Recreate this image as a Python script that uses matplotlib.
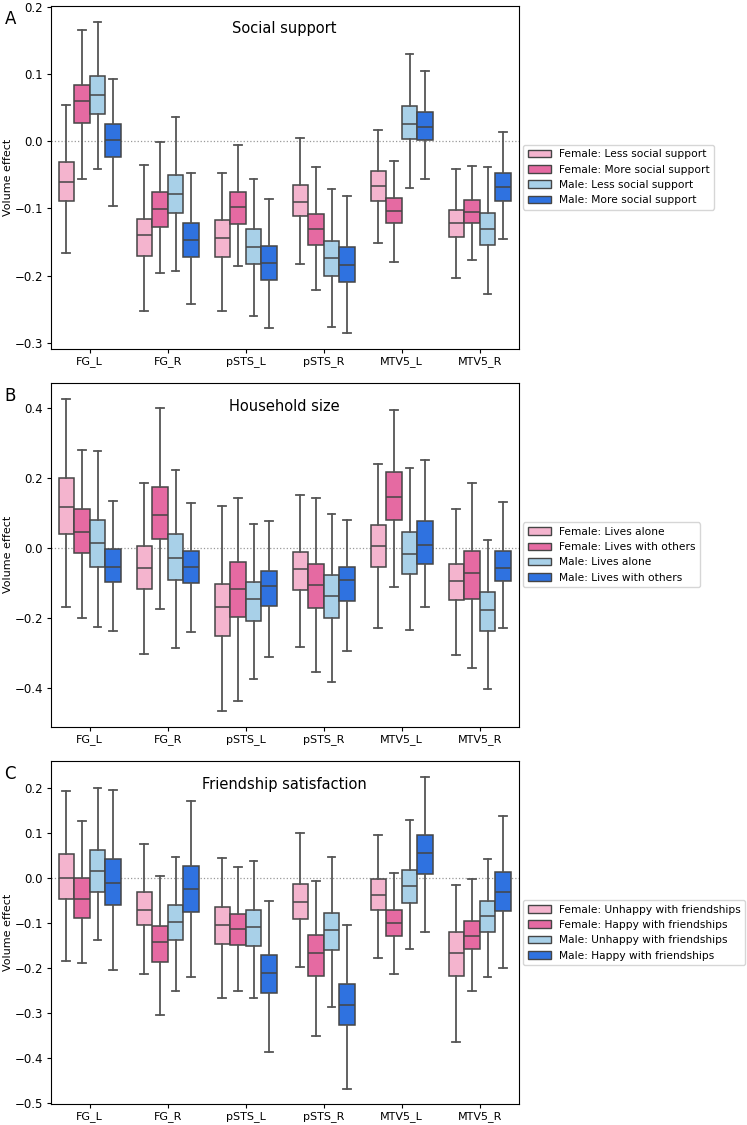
import numpy as np
import matplotlib
matplotlib.use('Agg')
import matplotlib.pyplot as plt
import matplotlib.patches as mpatches

# ── Dados ────────────────────────────────────────────────────────────────────
regions = ['FG_L', 'FG_R', 'pSTS_L', 'pSTS_R', 'MTV5_L', 'MTV5_R']
colors = ['#f4b4ce', '#e56aa2', '#a8d0e8', '#2f72e0']

# cada linha: [whislo, q1, med, q3, whishi] por região, por grupo
# ── A: Social support
labels_A = ['Female: Less social support', 'Female: More social support',
            'Male: Less social support', 'Male: More social support']
f_less_A = [[-0.167, -0.089, -0.061, -0.031, 0.054],
            [-0.253, -0.171, -0.139, -0.116, -0.035],
            [-0.253, -0.172, -0.144, -0.117, -0.047],
            [-0.182, -0.112, -0.090, -0.065, 0.005],
            [-0.152, -0.089, -0.067, -0.045, 0.017],
            [-0.203, -0.143, -0.122, -0.103, -0.041]]
f_more_A = [[-0.057, 0.027, 0.060, 0.083, 0.165],
            [-0.196, -0.127, -0.101, -0.076, -0.001],
            [-0.186, -0.123, -0.098, -0.076, -0.005],
            [-0.222, -0.155, -0.131, -0.109, -0.039],
            [-0.180, -0.122, -0.104, -0.084, -0.029],
            [-0.176, -0.122, -0.105, -0.087, -0.037]]
m_less_A = [[-0.041, 0.040, 0.068, 0.097, 0.177],
            [-0.193, -0.107, -0.079, -0.050, 0.036],
            [-0.260, -0.183, -0.158, -0.131, -0.056],
            [-0.276, -0.200, -0.174, -0.148, -0.071],
            [-0.070, 0.003, 0.026, 0.053, 0.129],
            [-0.227, -0.155, -0.130, -0.107, -0.038]]
m_more_A = [[-0.096, -0.024, 0.002, 0.025, 0.093],
            [-0.242, -0.172, -0.147, -0.122, -0.047],
            [-0.278, -0.206, -0.181, -0.156, -0.086],
            [-0.285, -0.210, -0.184, -0.157, -0.082],
            [-0.057, 0.002, 0.021, 0.043, 0.104],
            [-0.146, -0.089, -0.068, -0.048, 0.013]]

# ── B: Household size
labels_B = ['Female: Lives alone', 'Female: Lives with others',
            'Male: Lives alone', 'Male: Lives with others']
f_alone_B = [[-0.168, 0.041, 0.118, 0.200, 0.425],
             [-0.301, -0.117, -0.058, 0.006, 0.186],
             [-0.464, -0.251, -0.169, -0.103, 0.121],
             [-0.283, -0.120, -0.060, -0.010, 0.150],
             [-0.227, -0.054, 0.007, 0.065, 0.240],
             [-0.305, -0.149, -0.093, -0.045, 0.112]]
f_others_B = [[-0.198, -0.015, 0.047, 0.111, 0.280],
              [-0.174, 0.025, 0.093, 0.175, 0.400],
              [-0.437, -0.197, -0.118, -0.040, 0.142],
              [-0.352, -0.170, -0.104, -0.046, 0.143],
              [-0.111, 0.080, 0.146, 0.216, 0.394],
              [-0.341, -0.145, -0.071, -0.009, 0.185]]
m_alone_B = [[-0.224, -0.053, 0.014, 0.079, 0.277],
             [-0.286, -0.090, -0.028, 0.040, 0.221],
             [-0.373, -0.207, -0.146, -0.096, 0.068],
             [-0.381, -0.200, -0.136, -0.077, 0.098],
             [-0.233, -0.074, -0.018, 0.047, 0.228],
             [-0.402, -0.236, -0.175, -0.125, 0.023]]
m_others_B = [[-0.235, -0.096, -0.055, -0.004, 0.134],
              [-0.238, -0.100, -0.055, -0.007, 0.129],
              [-0.309, -0.165, -0.108, -0.066, 0.078],
              [-0.293, -0.151, -0.091, -0.055, 0.079],
              [-0.169, -0.044, 0.009, 0.078, 0.252],
              [-0.228, -0.095, -0.056, -0.007, 0.130]]

# ── C: Friendship satisfaction
labels_C = ['Female: Unhappy with friendships', 'Female: Happy with friendships',
            'Male: Unhappy with friendships', 'Male: Happy with friendships']
f_unhappy_C = [[-0.184, -0.047, 0.000, 0.053, 0.195],
               [-0.214, -0.105, -0.070, -0.032, 0.077],
               [-0.268, -0.147, -0.104, -0.065, 0.045],
               [-0.198, -0.091, -0.053, -0.014, 0.101],
               [-0.178, -0.072, -0.038, -0.003, 0.095],
               [-0.366, -0.218, -0.166, -0.121, -0.016]]
f_happy_C = [[-0.190, -0.088, -0.046, 0.000, 0.128],
             [-0.305, -0.186, -0.143, -0.106, 0.004],
             [-0.252, -0.149, -0.114, -0.080, 0.025],
             [-0.351, -0.218, -0.166, -0.126, -0.007],
             [-0.213, -0.130, -0.100, -0.071, 0.012],
             [-0.251, -0.159, -0.128, -0.096, -0.002]]
m_unhappy_C = [[-0.138, -0.032, 0.015, 0.062, 0.200],
               [-0.251, -0.137, -0.098, -0.061, 0.046],
               [-0.267, -0.152, -0.109, -0.072, 0.039],
               [-0.288, -0.161, -0.116, -0.077, 0.047],
               [-0.158, -0.056, -0.018, 0.019, 0.129],
               [-0.220, -0.119, -0.085, -0.050, 0.043]]
m_happy_C = [[-0.205, -0.060, -0.010, 0.042, 0.196],
             [-0.220, -0.075, -0.024, 0.028, 0.172],
             [-0.387, -0.257, -0.212, -0.171, -0.050],
             [-0.470, -0.328, -0.283, -0.236, -0.104],
             [-0.120, 0.010, 0.056, 0.097, 0.226],
             [-0.201, -0.073, -0.030, 0.013, 0.138]]

panels = [
    ('A', 'Social support', labels_A, [f_less_A, f_more_A, m_less_A, m_more_A], (-0.309, 0.2015)),
    ('B', 'Household size', labels_B, [f_alone_B, f_others_B, m_alone_B, m_others_B], (-0.509, 0.471)),
    ('C', 'Friendship satisfaction', labels_C, [f_unhappy_C, f_happy_C, m_unhappy_C, m_happy_C], (-0.504, 0.261)),
]

# ── Figura ────────────────────────────────────────────────────────────────────
fig = plt.figure(figsize=(7.47, 11.25), dpi=100)
axes_pos = [
    [0.0679, 0.6898, 0.6265, 0.3052],
    [0.0679, 0.3540, 0.6265, 0.3058],
    [0.0679, 0.0184, 0.6265, 0.3052],
]

offsets = [-0.3, -0.1, 0.1, 0.3]
edge = '#454545'
for (letter, title, labels, groups, ylim), pos in zip(panels, axes_pos):
    ax = fig.add_axes(pos)
    ax.axhline(0, color='#999999', ls=':', lw=0.9, zorder=0)
    for g, (grp, col) in enumerate(zip(groups, colors)):
        stats = []
        for vals in grp:
            lo, q1, med, q3, hi = vals
            stats.append(dict(whislo=lo, q1=q1, med=med, q3=q3, whishi=hi, fliers=[]))
        ax.bxp(stats, positions=np.arange(len(regions)) + offsets[g], widths=0.2,
               showfliers=False, patch_artist=True, manage_ticks=False,
               boxprops=dict(facecolor=col, edgecolor=edge, linewidth=1.1),
               medianprops=dict(color=edge, linewidth=1.1),
               whiskerprops=dict(color='#555555', linewidth=1.3),
               capprops=dict(color='#555555', linewidth=1.3))
    ax.set_xlim(-0.5, len(regions) - 0.5)
    ax.set_ylim(*ylim)
    ax.set_xticks(np.arange(len(regions)))
    ax.set_xticklabels(regions, fontsize=8)
    ax.tick_params(axis='x', length=3, pad=2)
    ax.tick_params(axis='y', labelsize=8.5, length=3, pad=2.5)
    ax.set_ylabel('Volume effect', fontsize=8)
    ax.yaxis.set_label_coords(-0.08, 0.5)
    ax.text(0.5, 0.932, title, transform=ax.transAxes, ha='center', va='center',
            fontsize=10.5)
    fig.text(0.006, pos[1] + pos[3] - 0.012, letter, fontsize=12, ha='left', va='center')
    handles = [mpatches.Patch(facecolor=c, edgecolor=edge, linewidth=1.0, label=l)
               for c, l in zip(colors, labels)]
    ax.legend(handles=handles, loc='center left', bbox_to_anchor=(1.0, 0.5),
              fontsize=7.7, handlelength=2.15, borderaxespad=0.43)

fig.savefig('out.png', dpi=100)
